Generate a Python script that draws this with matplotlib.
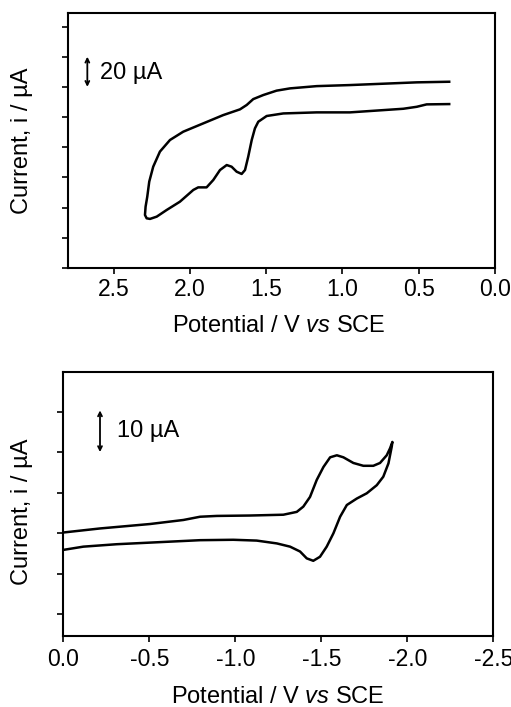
import matplotlib
matplotlib.use('Agg')
import matplotlib.pyplot as plt
import numpy as np

plt.rcParams['font.family'] = ['Liberation Sans', 'DejaVu Sans']
plt.rcParams['mathtext.fontset'] = 'custom'
plt.rcParams['mathtext.rm'] = 'Liberation Sans'
plt.rcParams['mathtext.it'] = 'Liberation Sans:italic'

# top panel: oxidation scan (V vs SCE, current in uA, arbitrary offset)
top_x = [0.30, 0.513, 0.951, 1.169, 1.344, 1.432, 1.519, 1.585, 1.628, 1.672,
         1.782, 1.913, 2.044, 2.131, 2.197, 2.241, 2.267, 2.280, 2.291, 2.295,
         2.284, 2.262, 2.218, 2.153, 2.066, 1.978, 1.946, 1.891, 1.847, 1.803,
         1.759, 1.727, 1.694, 1.661, 1.639, 1.618, 1.595, 1.574, 1.552, 1.497,
         1.388, 1.169, 0.951, 0.732, 0.601, 0.513, 0.448, 0.30]
top_i = [123.4, 123.0, 121.2, 120.5, 119.0, 117.5, 114.6, 111.9, 108.0, 105.1,
         101.3, 95.8, 90.3, 84.8, 77.1, 67.1, 57.2, 47.2, 40.6, 35.1,
         32.9, 32.5, 34.0, 38.4, 43.9, 51.7, 53.4, 53.4, 58.3, 64.9,
         68.2, 67.1, 63.8, 62.3, 64.9, 73.7, 84.8, 92.5, 96.9, 100.7,
         102.4, 103.1, 103.1, 104.6, 105.5, 106.8, 108.4, 108.6]

# bottom panel: reduction scan
bot_x = [0.0, -0.213, -0.504, -0.698, -0.795, -0.892, -1.085, -1.279, -1.357, -1.395,
         -1.434, -1.473, -1.512, -1.551, -1.590, -1.628, -1.686, -1.744, -1.802, -1.841,
         -1.880, -1.899, -1.913, -1.909, -1.890, -1.860, -1.822, -1.764, -1.706, -1.648,
         -1.609, -1.570, -1.531, -1.492, -1.453, -1.415, -1.376, -1.318, -1.241, -1.124,
         -0.988, -0.795, -0.601, -0.310, -0.116, 0.0]
bot_i = [20.2, 21.2, 22.3, 23.3, 24.1, 24.3, 24.4, 24.6, 25.3, 26.6,
         29.0, 33.2, 36.4, 38.8, 39.3, 38.8, 37.4, 36.7, 36.7, 37.4,
         39.3, 41.0, 42.6, 41.4, 37.3, 34.0, 31.9, 29.9, 28.6, 27.0,
         24.1, 20.0, 16.7, 14.2, 13.2, 13.8, 15.5, 16.7, 17.5, 18.2,
         18.4, 18.3, 17.9, 17.3, 16.7, 15.9]

top_xticks = [2.5, 2.0, 1.5, 1.0, 0.5, 0.0]
bot_xticks = [0.0, -0.5, -1.0, -1.5, -2.0, -2.5]

fig = plt.figure(figsize=(5.11, 7.07), dpi=100)
ax1 = fig.add_axes([0.133, 0.621, 0.8356, 0.3607])
ax2 = fig.add_axes([0.124, 0.101, 0.8415, 0.3734])

xlabel = r'Potential / V $\it{vs}$ SCE'

for ax in (ax1, ax2):
    for s in ax.spines.values():
        s.set_linewidth(1.5)
    ax.tick_params(direction='out', length=4, width=1.2, labelsize=16.5)
    ax.set_xlabel(xlabel, fontsize=17)
    ax.set_ylabel('Current, i / µA', fontsize=17)

ax1.tick_params(axis='x', pad=3.5)
ax2.tick_params(axis='x', pad=5)

ax1.plot(top_x, top_i, color='black', lw=1.8)
ax1.set_xlim(2.8, 0.0)
ax1.set_ylim(0, 169)
ax1.set_xticks(top_xticks)
ax1.set_xticklabels(['%.1f' % t for t in top_xticks])
ax1.set_yticks(np.arange(0, 161, 20))
ax1.set_yticklabels([])
ax1.xaxis.set_label_coords(0.494, -0.185)
ax1.yaxis.set_label_coords(-0.082, 0.5)
ax1.annotate('', xy=(2.673, 140), xytext=(2.673, 120),
             arrowprops=dict(arrowstyle='<->', color='black', lw=1.3,
                             mutation_scale=7, shrinkA=0, shrinkB=0))
ax1.text(2.59, 129, '20 µA', fontsize=17, va='center', ha='left')

ax2.plot(bot_x, bot_i, color='black', lw=1.8)
ax2.set_xlim(0.0, -2.5)
ax2.set_ylim(-5.3, 60)
ax2.set_xticks(bot_xticks)
ax2.set_xticklabels(['%.1f' % t for t in bot_xticks])
ax2.set_yticks(np.arange(0, 51, 10))
ax2.set_yticklabels([])
ax2.xaxis.set_label_coords(0.498, -0.19)
ax2.yaxis.set_label_coords(-0.0705, 0.47)
ax2.annotate('', xy=(-0.213, 50.4), xytext=(-0.213, 40.1),
             arrowprops=dict(arrowstyle='<->', color='black', lw=1.3,
                             mutation_scale=7, shrinkA=0, shrinkB=0))
ax2.text(-0.31, 45.3, '10 µA', fontsize=17, va='center', ha='left')

fig.savefig('out.png', dpi=100)
